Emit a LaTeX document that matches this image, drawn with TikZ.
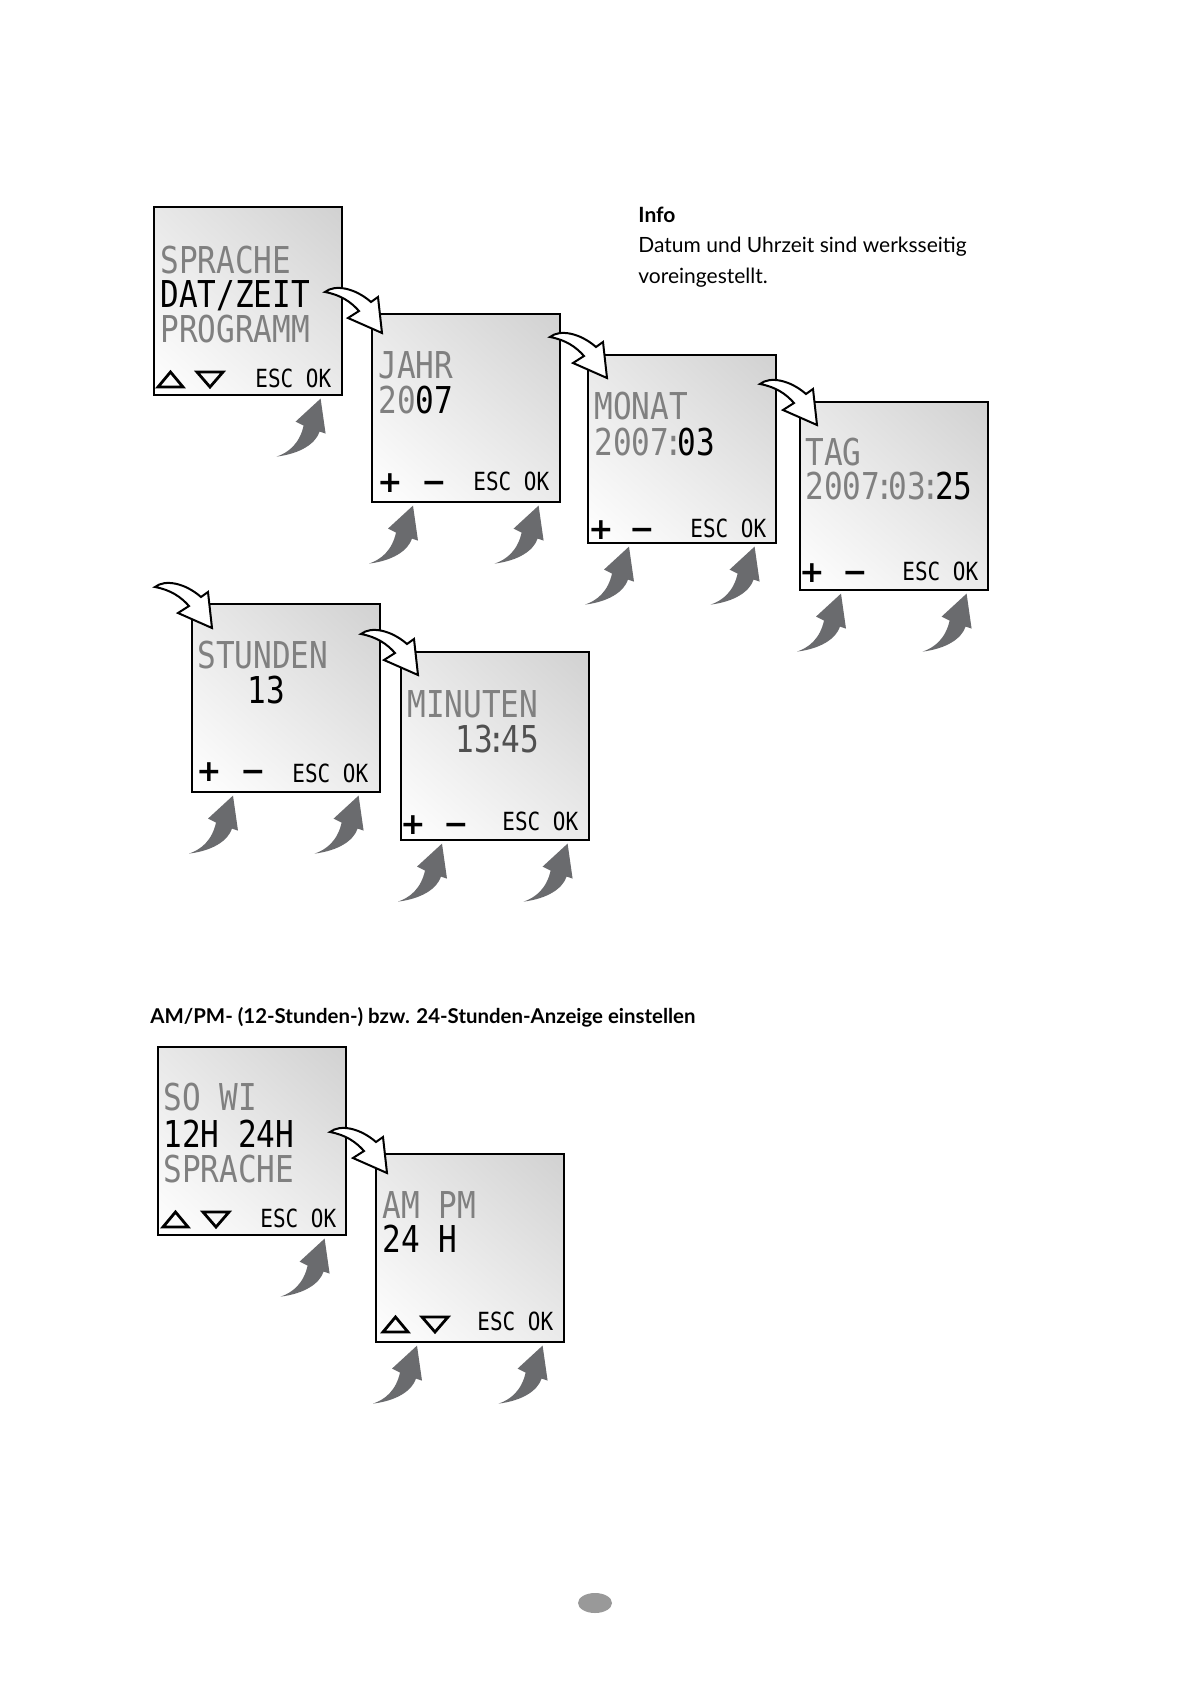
\documentclass[tikz,border=0pt]{standalone}
\usepackage{fontspec}
\setmainfont{Lato}
\newfontfamily\lcdfont[FakeStretch=0.84]{DejaVu Sans Mono}
\newfontfamily\signfont{DejaVu Sans}
\usetikzlibrary{calc, shadings}
\definecolor{lcdoff}{RGB}{128,128,128}
\definecolor{lcdmid}{RGB}{80,80,80}
\definecolor{pressgray}{RGB}{106,107,110}
\definecolor{pagedot}{RGB}{153,153,153}
\newcommand\lcdsep{\kern-2.5pt:\kern-2.5pt}
\newcommand\nextarrow[1]{\filldraw[fill=white, draw=black, line width=1pt, line join=miter, shift={(#1)}] (0,0) -- (-34,-15) -- (-23,-22) .. controls (-31,-31) and (-41,-38) .. (-57,-41) .. controls (-47,-49) and (-27,-45) .. (-11,-31) -- (-4,-36) -- cycle;}
\newcommand\pressarrow[1]{\fill[pressgray, shift={(#1)}] (0,0) -- (5,35) -- (-1,33) .. controls (-5,45) and (-20,55) .. (-44,58) .. controls (-32,54) and (-21,45) .. (-17,27) -- (-25,23) -- cycle;}
\newcommand\uptri[1]{\draw[keytri, shift={(#1)}] (0,0) -- (25,0) -- (12.5,-15) -- cycle;}
\newcommand\downtri[1]{\draw[keytri, shift={(#1)}] (0,-15) -- (26,-15) -- (13,0) -- cycle;}

\begin{document}
\begin{tikzpicture}[x=0.5pt, y=-0.5pt,
  screen/.style={draw, line width=0.8pt, anchor=north west, inner sep=0pt, minimum width=94pt, minimum height=94pt,
    shading=bilinear interpolation, upper left=gray!18, upper right=gray!36, lower left=white, lower right=gray!16},
  lcd/.style={anchor=base west, inner sep=0pt, text=lcdoff, font=\lcdfont\fontsize{18.5}{20}\selectfont},
  lcdon/.style={lcd, text=black},
  keylabel/.style={anchor=base west, inner sep=0pt, font=\lcdfont\fontsize{12.5}{14}\selectfont},
  keysign/.style={anchor=base, inner sep=0pt, font=\signfont\bfseries\fontsize{15}{16}\selectfont},
  keytri/.style={line width=1.4pt, line join=miter},
  plaintext/.style={anchor=base west, inner sep=0pt, font=\fontsize{10.5}{13}\selectfont}]
\fill[white] (0,0) rectangle (1192,1685);
\useasboundingbox (0,0) rectangle (1192,1685);

\node[plaintext] (info-a) at (638,223) {\bfseries Info};
\node[plaintext] (info-b) at (638,253) {Datum und Uhrzeit sind werksseitig};
\node[plaintext] (info-c) at (638,283) {voreingestellt.};

\node[screen] (sprache) at (153,206) {};
\node[screen] (jahr) at (371,313) {};
\node[screen] (monat) at (587,354) {};
\node[screen] (tag) at (799,401) {};
\node[screen] (stunden) at (191,603) {};
\node[screen] (minuten) at (400,651) {};

\node[lcd] (sprache-a) at (160,273) {SPRACHE};
\node[lcdon] (sprache-b) at (160,307) {DAT/ZEIT};
\node[lcd] (sprache-c) at (160,342) {PROGRAMM};
\uptri{158,387}
\downtri{197,387}
\node[keylabel] (sprache-k) at (255,387) {ESC OK};

\node[lcd] (jahr-a) at (378,378) {JAHR};
\node[lcd] (jahr-b) at (378,413) {20\textcolor{black}{07}};
\node[keysign] (jahr-plus) at (390,492) {+};
\node[keysign] (jahr-minus) at (434,492) {−};
\node[keylabel] (jahr-k) at (473,490) {ESC OK};

\node[lcd] (monat-a) at (594,419) {MONAT};
\node[lcd] (monat-b) at (594,455) {2007\lcdsep\textcolor{black}{03}};
\node[keysign] (monat-plus) at (601,539) {+};
\node[keysign] (monat-minus) at (642,539) {−};
\node[keylabel] (monat-k) at (690,537) {ESC OK};

\node[lcd] (tag-a) at (805,465) {TAG};
\node[lcd] (tag-b) at (805,499) {2007\lcdsep03\lcdsep\textcolor{black}{25}};
\node[keysign] (tag-plus) at (812,582) {+};
\node[keysign] (tag-minus) at (855,582) {−};
\node[keylabel] (tag-k) at (902,580) {ESC OK};

\node[lcd] (stunden-a) at (197,668) {STUNDEN};
\node[lcdon] (stunden-b) at (247,703) {13};
\node[keysign] (stunden-plus) at (209,781) {+};
\node[keysign] (stunden-minus) at (253,781) {−};
\node[keylabel] (stunden-k) at (292,782) {ESC OK};

\node[lcd] (minuten-a) at (407,717) {MINUTEN};
\node[lcd, text=lcdmid] (minuten-b) at (455,752) {13\lcdsep45};
\node[keysign] (minuten-plus) at (413,834) {+};
\node[keysign] (minuten-minus) at (456,834) {−};
\node[keylabel] (minuten-k) at (502,830) {ESC OK};

\pressarrow{$(sprache.south east)+(-22,3)$}
\pressarrow{$(jahr.south west)+(42,3)$}
\pressarrow{$(jahr.south east)+(-22,3)$}
\pressarrow{$(monat.south west)+(42,3)$}
\pressarrow{$(monat.south east)+(-22,3)$}
\pressarrow{$(tag.south west)+(42,3)$}
\pressarrow{$(tag.south east)+(-22,3)$}
\pressarrow{$(stunden.south west)+(42,3)$}
\pressarrow{$(stunden.south east)+(-22,3)$}
\pressarrow{$(minuten.south west)+(42,3)$}
\pressarrow{$(minuten.south east)+(-22,3)$}

\nextarrow{$(jahr.north west)+(11,20)$}
\nextarrow{$(monat.north west)+(20,24)$}
\nextarrow{$(tag.north west)+(18,24)$}
\nextarrow{$(stunden.north west)+(21,25)$}
\nextarrow{$(minuten.north west)+(18,24)$}

\node[plaintext, font=\fontsize{10.2}{13}\selectfont] (title) at (150,1023) {\bfseries AM/PM- (12-Stunden-) bzw. 24-Stunden-Anzeige einstellen};

\node[screen] (sowi) at (157,1046) {};
\node[screen] (ampm) at (375,1153) {};

\node[lcd] (sowi-a) at (163,1110) {SO WI};
\node[lcdon] (sowi-b) at (163,1147) {12H 24H};
\node[lcd] (sowi-c) at (163,1182) {SPRACHE};
\uptri{163,1227}
\downtri{203,1227}
\node[keylabel] (sowi-k) at (260,1227) {ESC OK};

\node[lcd] (ampm-a) at (382,1218) {AM PM};
\node[lcdon] (ampm-b) at (382,1252) {24 H};
\uptri{383,1332}
\downtri{422,1332}
\node[keylabel] (ampm-k) at (477,1330) {ESC OK};

\pressarrow{$(sowi.south east)+(-22,3)$}
\pressarrow{$(ampm.south west)+(42,3)$}
\pressarrow{$(ampm.south east)+(-22,3)$}

\nextarrow{$(ampm.north west)+(12,20)$}

\fill[pagedot] (595,1603) ellipse [x radius=17, y radius=10];
\end{tikzpicture}
\end{document}
